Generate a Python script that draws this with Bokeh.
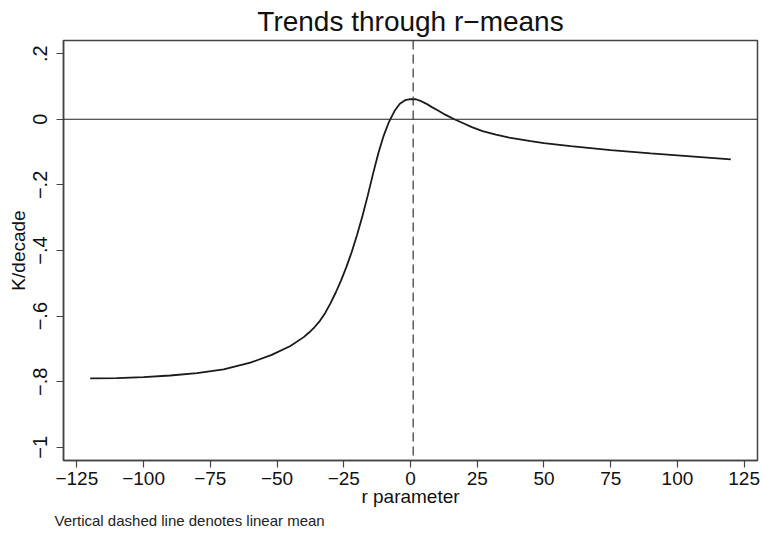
from bokeh.plotting import figure
from bokeh.models import Range1d, FixedTicker, Span, Title
from bokeh.embed import file_html
from bokeh.resources import INLINE

# r parameter values and trends (K/decade)
r_values = [-120, -110, -100, -90, -80, -70, -60, -52, -45, -40, -38, -36, -34, -32, -30,
            -28, -26, -24, -22, -20, -18, -16, -14, -12, -10, -8, -6, -4, -2, 0, 2, 4,
            6, 8, 10, 13, 16.4, 20, 23, 27, 32, 37, 45, 50, 60, 75, 90, 100, 110, 120]
trend_values = [-0.790, -0.789, -0.786, -0.781, -0.774, -0.762, -0.742, -0.718, -0.691,
                -0.664, -0.650, -0.634, -0.615, -0.591, -0.561, -0.528, -0.491, -0.450,
                -0.404, -0.352, -0.295, -0.232, -0.165, -0.102, -0.049, -0.007, 0.025,
                0.047, 0.058, 0.061, 0.061, 0.055, 0.047, 0.037, 0.028, 0.014, 0.000,
                -0.013, -0.024, -0.036, -0.047, -0.056, -0.067, -0.073, -0.082, -0.094,
                -0.104, -0.110, -0.116, -0.122]
linear_mean = 1.0

x_ticks = [-125, -100, -75, -50, -25, 0, 25, 50, 75, 100, 125]
x_tick_labels = ["−125", "−100", "−75", "−50", "−25", "0", "25", "50", "75", "100", "125"]
y_ticks = [-1.0, -0.8, -0.6, -0.4, -0.2, 0.0, 0.2]
y_tick_labels = ["−1", "−.8", "−.6", "−.4", "−.2", "0", ".2"]

title_text = "Trends through r−means"
x_label = "r parameter"
y_label = "K/decade"
note_text = "Vertical dashed line denotes linear mean"

FONT = "Liberation Sans"
x_min, x_max = -130, 130
y_min, y_max = -1.04, 0.24

p = figure(width=764, height=538, x_range=Range1d(x_min, x_max), y_range=Range1d(y_min, y_max),
           output_backend="svg", toolbar_location=None,
           min_border_left=63, min_border_right=7, min_border_top=39, min_border_bottom=78)

p.title.text = title_text
p.title.align = "center"
p.title.text_font = FONT
p.title.text_font_size = "28px"
p.title.text_font_style = "normal"
p.title.text_color = "#111111"
p.title.standoff = 7
p.title.offset = 2

p.xgrid.visible = False
p.ygrid.visible = False
p.outline_line_color = "#444444"
p.outline_line_width = 1.5
p.background_fill_color = "white"
p.border_fill_color = "white"

for ax in (p.xaxis[0], p.yaxis[0]):
    ax.axis_line_color = "#444444"
    ax.axis_line_width = 1.5
    ax.major_tick_line_color = "#444444"
    ax.major_tick_line_width = 1.2
    ax.major_tick_out = 7
    ax.major_tick_in = 0
    ax.minor_tick_line_color = None
    ax.major_label_text_font = FONT
    ax.major_label_text_font_size = "19px"
    ax.major_label_text_color = "#111111"
    ax.axis_label_text_font = FONT
    ax.axis_label_text_font_size = "19px"
    ax.axis_label_text_font_style = "normal"
    ax.axis_label_text_color = "#111111"

p.xaxis[0].ticker = FixedTicker(ticks=x_ticks)
p.xaxis[0].major_label_overrides = {t: l for t, l in zip(x_ticks, x_tick_labels)}
p.xaxis[0].axis_label = x_label
p.xaxis[0].major_label_standoff = 4
p.xaxis[0].axis_label_standoff = -2

p.yaxis[0].ticker = FixedTicker(ticks=y_ticks)
p.yaxis[0].major_label_overrides = {t: l for t, l in zip(y_ticks, y_tick_labels)}
p.yaxis[0].major_label_orientation = "vertical"
p.yaxis[0].major_label_text_font_size = "20px"
p.yaxis[0].axis_label = y_label
p.yaxis[0].major_label_standoff = 10
p.yaxis[0].axis_label_standoff = 1

p.add_layout(Span(location=0, dimension="width", line_color="#222222", line_width=1))
p.add_layout(Span(location=linear_mean, dimension="height", line_color="#333333",
                  line_width=1.2, line_dash="9 5"))

p.line(r_values, trend_values, line_color="#1a1a1a", line_width=1.8)

note = Title(text=note_text, align="left", text_font=FONT, text_font_size="15px",
             text_font_style="normal", text_color="#222222", offset=-9, standoff=0)
p.add_layout(note, "below")

open("out.html", "w").write(file_html(p, INLINE))
